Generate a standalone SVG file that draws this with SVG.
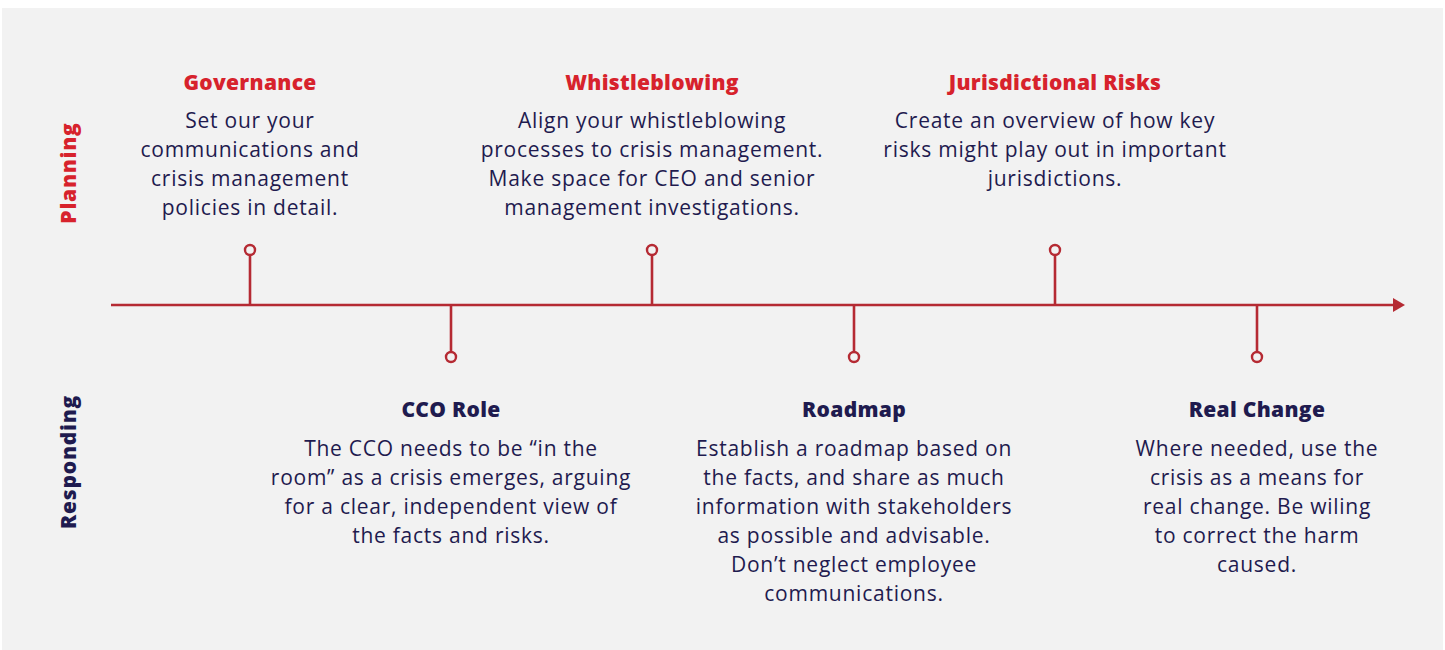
<svg xmlns="http://www.w3.org/2000/svg" width="1445" height="650" viewBox="0 0 1445 650">
  <defs>
    <style>
      .title { font-family: "Open Sans", "Liberation Sans", sans-serif; font-weight: 800; font-size: 21px; letter-spacing: 0.3px; text-anchor: middle; }
      .red { fill: #d7222c; }
      .navy { fill: #1f1b4f; }
      .body { font-family: "Open Sans", "Liberation Sans", sans-serif; font-size: 21px; letter-spacing: 0.75px; fill: #1f1b4f; text-anchor: middle; }
      .axis { stroke: #b52a33; stroke-width: 2.6; fill: none; }
      .dot { stroke: #b52a33; stroke-width: 2.4; fill: #f2f2f2; }
      .side { font-family: "Open Sans", "Liberation Sans", sans-serif; font-weight: 800; font-size: 21px; letter-spacing: 0.8px; text-anchor: middle; }
    </style>
    <marker id="arrow" viewBox="0 0 12 14" refX="1" refY="7" markerWidth="12" markerHeight="14" markerUnits="userSpaceOnUse" orient="auto">
      <path d="M0,0 L12,7 L0,14 Z" fill="#b52a33"/>
    </marker>
  </defs>

  <rect x="0" y="0" width="1445" height="650" fill="#ffffff"/>
  <rect x="2" y="8" width="1441" height="642" fill="#f2f2f2"/>

  <!-- row labels -->
  <text class="side red" transform="translate(76,173) rotate(-90)">Planning</text>
  <text class="side navy" transform="translate(76,462) rotate(-90)">Responding</text>

  <!-- timeline axis and stems -->
  <g id="connectors">
    <line class="axis" x1="111" y1="305" x2="1394" y2="305" marker-end="url(#arrow)"/>
    <line class="axis" x1="250" y1="305" x2="250" y2="255"/>
    <line class="axis" x1="451" y1="305" x2="451" y2="352"/>
    <line class="axis" x1="652" y1="305" x2="652" y2="255"/>
    <line class="axis" x1="854" y1="305" x2="854" y2="352"/>
    <line class="axis" x1="1055" y1="305" x2="1055" y2="255"/>
    <line class="axis" x1="1257" y1="305" x2="1257" y2="352"/>
  </g>

  <g id="governance">
    <circle class="dot" cx="250" cy="250" r="5"/>
    <text class="title red" x="250" y="90">Governance</text>
    <text class="body" x="250" y="128">Set our your</text>
    <text class="body" x="250" y="157">communications and</text>
    <text class="body" x="250" y="186">crisis management</text>
    <text class="body" x="250" y="215">policies in detail.</text>
  </g>

  <g id="cco-role">
    <circle class="dot" cx="451" cy="357" r="5"/>
    <text class="title navy" x="451" y="417">CCO Role</text>
    <text class="body" x="451" y="456">The CCO needs to be “in the</text>
    <text class="body" x="451" y="485">room” as a crisis emerges, arguing</text>
    <text class="body" x="451" y="514">for a clear, independent view of</text>
    <text class="body" x="451" y="543">the facts and risks.</text>
  </g>

  <g id="whistleblowing">
    <circle class="dot" cx="652" cy="250" r="5"/>
    <text class="title red" x="652" y="90">Whistleblowing</text>
    <text class="body" x="652" y="128">Align your whistleblowing</text>
    <text class="body" x="652" y="157">processes to crisis management.</text>
    <text class="body" x="652" y="186">Make space for CEO and senior</text>
    <text class="body" x="652" y="215">management investigations.</text>
  </g>

  <g id="roadmap">
    <circle class="dot" cx="854" cy="357" r="5"/>
    <text class="title navy" x="854" y="417">Roadmap</text>
    <text class="body" x="854" y="456">Establish a roadmap based on</text>
    <text class="body" x="854" y="485">the facts, and share as much</text>
    <text class="body" x="854" y="514">information with stakeholders</text>
    <text class="body" x="854" y="543">as possible and advisable.</text>
    <text class="body" x="854" y="572">Don’t neglect employee</text>
    <text class="body" x="854" y="601">communications.</text>
  </g>

  <g id="jurisdictional-risks">
    <circle class="dot" cx="1055" cy="250" r="5"/>
    <text class="title red" x="1055" y="90">Jurisdictional Risks</text>
    <text class="body" x="1055" y="128">Create an overview of how key</text>
    <text class="body" x="1055" y="157">risks might play out in important</text>
    <text class="body" x="1055" y="186">jurisdictions.</text>
  </g>

  <g id="real-change">
    <circle class="dot" cx="1257" cy="357" r="5"/>
    <text class="title navy" x="1257" y="417">Real Change</text>
    <text class="body" x="1257" y="456">Where needed, use the</text>
    <text class="body" x="1257" y="485">crisis as a means for</text>
    <text class="body" x="1257" y="514">real change. Be wiling</text>
    <text class="body" x="1257" y="543">to correct the harm</text>
    <text class="body" x="1257" y="572">caused.</text>
  </g>
</svg>
